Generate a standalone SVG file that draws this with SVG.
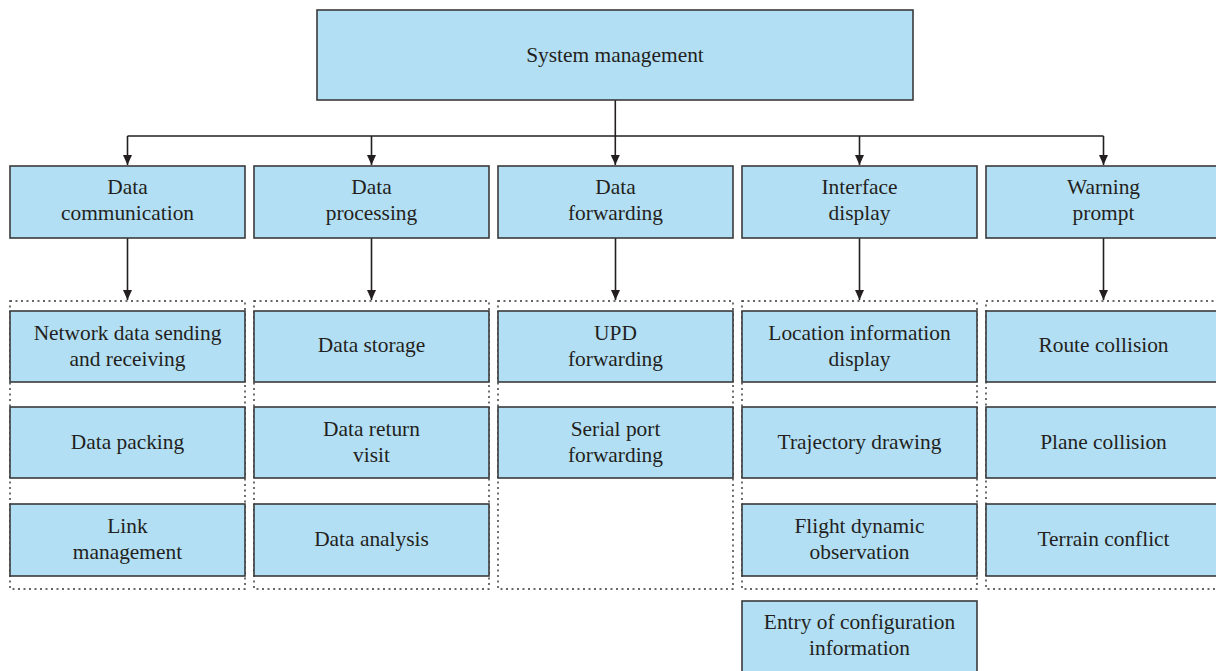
<svg xmlns="http://www.w3.org/2000/svg" width="1216" height="671" viewBox="0 0 1216 671">
<style>
.box{fill:#b3dff5;stroke:#3a3a3a;stroke-width:1.6}
.grp{fill:none;stroke:#333;stroke-width:1.4;stroke-dasharray:2 3.5}
.t{font-family:"Liberation Serif","Times New Roman",serif;font-size:21.4px;fill:#231f20;text-anchor:middle}
.ln{fill:none;stroke:#231f20;stroke-width:1.6}
</style>
<defs>
<marker id="ah" viewBox="0 0 10 10" refX="10" refY="5" markerWidth="10" markerHeight="10" markerUnits="userSpaceOnUse" orient="auto">
<path d="M0,0.5 L10,5 L0,9.5 Z" fill="#231f20"/>
</marker>
</defs>
<rect width="1216" height="671" fill="#fff"/>
<g id="groups">
<rect class="grp" x="10" y="301" width="235" height="288"/>
<rect class="grp" x="254" y="301" width="235" height="288"/>
<rect class="grp" x="498" y="301" width="235" height="288"/>
<rect class="grp" x="742" y="301" width="235" height="288"/>
<rect class="grp" x="986" y="301" width="240" height="288"/>
</g>
<g id="connectors">
<path class="ln" d="M615.3,100 V136"/>
<path class="ln" d="M127.5,136 H1103.5"/>
<path class="ln" d="M127.5,136 V165" marker-end="url(#ah)"/>
<path class="ln" d="M371.5,136 V165" marker-end="url(#ah)"/>
<path class="ln" d="M615.3,136 V165" marker-end="url(#ah)"/>
<path class="ln" d="M859.5,136 V165" marker-end="url(#ah)"/>
<path class="ln" d="M1103.5,136 V165" marker-end="url(#ah)"/>
<path class="ln" d="M127.5,238 V300" marker-end="url(#ah)"/>
<path class="ln" d="M371.5,238 V300" marker-end="url(#ah)"/>
<path class="ln" d="M615.5,238 V300" marker-end="url(#ah)"/>
<path class="ln" d="M859.5,238 V300" marker-end="url(#ah)"/>
<path class="ln" d="M1103.5,238 V300" marker-end="url(#ah)"/>
</g>
<g id="root"><rect class="box" x="317" y="10" width="596" height="90"/><text class="t" x="615" y="62">System management</text></g>
<g id="n1"><rect class="box" x="10" y="166" width="235" height="72"/><text class="t" x="127.5" y="194">Data</text><text class="t" x="127.5" y="220">communication</text></g>
<g id="n2"><rect class="box" x="254" y="166" width="235" height="72"/><text class="t" x="371.5" y="194">Data</text><text class="t" x="371.5" y="220">processing</text></g>
<g id="n3"><rect class="box" x="498" y="166" width="235" height="72"/><text class="t" x="615.5" y="194">Data</text><text class="t" x="615.5" y="220">forwarding</text></g>
<g id="n4"><rect class="box" x="742" y="166" width="235" height="72"/><text class="t" x="859.5" y="194">Interface</text><text class="t" x="859.5" y="220">display</text></g>
<g id="n5"><rect class="box" x="986" y="166" width="240" height="72"/><text class="t" x="1103.5" y="194">Warning</text><text class="t" x="1103.5" y="220">prompt</text></g>

<g id="n1a"><rect class="box" x="10" y="311" width="235" height="71"/><text class="t" x="127.5" y="340">Network data sending</text><text class="t" x="127.5" y="366">and receiving</text></g>
<g id="n1b"><rect class="box" x="10" y="407" width="235" height="71"/><text class="t" x="127.5" y="449">Data packing</text></g>
<g id="n1c"><rect class="box" x="10" y="504" width="235" height="72"/><text class="t" x="127.5" y="533">Link</text><text class="t" x="127.5" y="559">management</text></g>

<g id="n2a"><rect class="box" x="254" y="311" width="235" height="71"/><text class="t" x="371.5" y="352">Data storage</text></g>
<g id="n2b"><rect class="box" x="254" y="407" width="235" height="71"/><text class="t" x="371.5" y="436">Data return</text><text class="t" x="371.5" y="462">visit</text></g>
<g id="n2c"><rect class="box" x="254" y="504" width="235" height="72"/><text class="t" x="371.5" y="546">Data analysis</text></g>

<g id="n3a"><rect class="box" x="498" y="311" width="235" height="71"/><text class="t" x="615.5" y="340">UPD</text><text class="t" x="615.5" y="366">forwarding</text></g>
<g id="n3b"><rect class="box" x="498" y="407" width="235" height="71"/><text class="t" x="615.5" y="436">Serial port</text><text class="t" x="615.5" y="462">forwarding</text></g>

<g id="n4a"><rect class="box" x="742" y="311" width="235" height="71"/><text class="t" x="859.5" y="340">Location information</text><text class="t" x="859.5" y="366">display</text></g>
<g id="n4b"><rect class="box" x="742" y="407" width="235" height="71"/><text class="t" x="859.5" y="449">Trajectory drawing</text></g>
<g id="n4c"><rect class="box" x="742" y="504" width="235" height="72"/><text class="t" x="859.5" y="533">Flight dynamic</text><text class="t" x="859.5" y="559">observation</text></g>
<g id="n4d"><rect class="box" x="742" y="601" width="235" height="80"/><text class="t" x="859.5" y="629">Entry of configuration</text><text class="t" x="859.5" y="655">information</text></g>

<g id="n5a"><rect class="box" x="986" y="311" width="240" height="71"/><text class="t" x="1103.5" y="352">Route collision</text></g>
<g id="n5b"><rect class="box" x="986" y="407" width="240" height="71"/><text class="t" x="1103.5" y="449">Plane collision</text></g>
<g id="n5c"><rect class="box" x="986" y="504" width="240" height="72"/><text class="t" x="1103.5" y="546">Terrain conflict</text></g>
</svg>
